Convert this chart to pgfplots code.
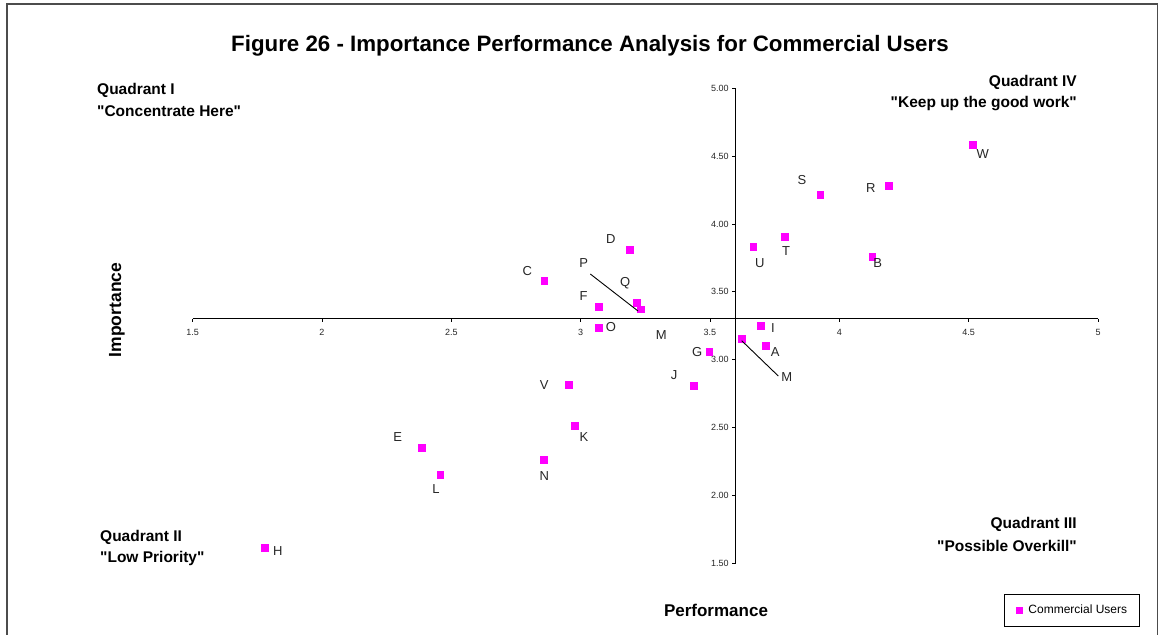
\documentclass[border=0pt]{standalone}
\usepackage{fontspec}
\setmainfont{Liberation Sans}[Ligatures=TeXOff]
\usepackage{pgfplots}
\pgfplotsset{compat=1.18}
\definecolor{mag}{RGB}{255,0,255}
\begin{document}
\begin{tikzpicture}
\useasboundingbox (0,0) rectangle (1165bp,635bp);
\begin{axis}[
  at={(192.6bp,71.9bp)}, anchor=south west,
  scale only axis, width=905.4bp, height=474.8bp,
  xmin=1.5, xmax=5, ymin=1.5, ymax=5,
  axis lines=none, clip=false,
  legend style={at={(0.9707,-0.0988)}, anchor=center, draw=black, line width=0.6bp,
    inner xsep=12bp, inner ysep=11bp, column sep=6bp,
    nodes={inner sep=0bp, font=\fontsize{12bp}{14bp}\selectfont}},
  legend image code/.code={\fill[mag] (-3bp,-3bp) rectangle (3bp,3bp);},
]
\addplot[only marks, mark=square*, mark size=3.4bp, color=mag, draw=mag, fill=mag] table {
x y
1.779 1.612
2.387 2.353
2.457 2.151
2.858 2.262
2.978 2.513
2.955 2.816
2.859 3.584
3.191 3.813
3.070 3.390
3.070 3.235
3.217 3.417
3.231 3.372
3.696 3.248
3.623 3.157
3.715 3.100
3.497 3.056
3.438 2.809
4.517 4.583
4.191 4.281
3.926 4.217
3.789 3.904
3.667 3.833
4.127 3.759
};
\addlegendentry{Commercial Users}
% axis lines
\draw[line width=1bp] (axis cs:1.5,3.3) -- (axis cs:5,3.3);
\draw[line width=1bp] (axis cs:3.6,1.5) -- (axis cs:3.6,5);
\pgfplotsinvokeforeach{1.5,2,2.5,3,3.5,4,4.5,5}{
  \draw[line width=0.8bp] (axis cs:#1,3.3) -- ++(0bp,-3.5bp);
  \node[font=\fontsize{9bp}{11bp}\selectfont, inner sep=0pt, text=black!85] at ([yshift=-13.4bp]axis cs:#1,3.3) {#1};
}
\pgfplotsinvokeforeach{1.50,2.00,2.50,3.00,3.50,4.00,4.50,5.00}{
  \draw[line width=0.8bp] (axis cs:3.6,#1) -- ++(-3.5bp,0bp);
  \node[font=\fontsize{9bp}{11bp}\selectfont, inner sep=0pt, anchor=east, text=black!85] at ([xshift=-7bp]axis cs:3.6,#1) {#1};
}
\end{axis}
\begin{scope}[x=1bp,y=1bp]
% outer frame
\draw[black!70, line width=1.3bp] (7,0) -- (7,631) -- (1157.5,631) -- (1157.5,0);
% title
\node[anchor=base, inner sep=0pt, font=\bfseries\fontsize{22.3bp}{26bp}\selectfont] at (590,583) {Figure 26 - Importance Performance Analysis for Commercial Users};
% axis titles
\node[inner sep=0pt, font=\bfseries\fontsize{17bp}{20bp}\selectfont] at (716,25) {Performance};
\node[inner sep=0pt, rotate=90, font=\bfseries\fontsize{17.5bp}{20bp}\selectfont] at (117,325) {Importance};
% quadrant labels
\begin{scope}[every node/.style={inner sep=0pt, font=\bfseries\fontsize{15.5bp}{18bp}\selectfont}]
\node[anchor=base west] at (97,540) {Quadrant I};
\node[anchor=base west] at (97,518.5) {"Concentrate Here"};
\node[anchor=base west] at (100,93.5) {Quadrant II};
\node[anchor=base west] at (100,73) {"Low Priority"};
\node[anchor=base east] at (1077,548) {Quadrant IV};
\node[anchor=base east] at (1077,527) {"Keep up the good work"};
\node[anchor=base east] at (1077,106.5) {Quadrant III};
\node[anchor=base east] at (1077,83.5) {"Possible Overkill"};
\end{scope}
% point labels
\begin{scope}[every node/.style={inner sep=0pt, font=\fontsize{13bp}{15bp}\selectfont, text=black!85}]
\node at (277.7,84) {H};
\node at (397.7,197.7) {E};
\node at (436,146) {L};
\node at (544.3,159) {N};
\node at (584,197.7) {K};
\node at (544.3,250) {V};
\node at (674,260) {J};
\node at (527.3,364.3) {C};
\node at (610.7,395.7) {D};
\node at (583.7,371.7) {P};
\node at (625.3,352.3) {Q};
\node at (583.7,338.7) {F};
\node at (611,307.7) {O};
\node at (661.3,300) {M};
\node at (697.3,283) {G};
\node at (773,307.3) {I};
\node at (775.3,283) {A};
\node at (786.7,258.3) {M};
\node at (982.7,480.7) {W};
\node at (870.7,446.7) {R};
\node at (802,454.7) {S};
\node at (786,383.7) {T};
\node at (759.7,371.7) {U};
\node at (877.7,371.7) {B};
\end{scope}
% leader lines
\draw[line width=0.9bp] (590.3,361) -- (638,324);
\draw[line width=0.9bp] (741.7,294.3) -- (778.3,259);
\end{scope}
\end{tikzpicture}
\end{document}
